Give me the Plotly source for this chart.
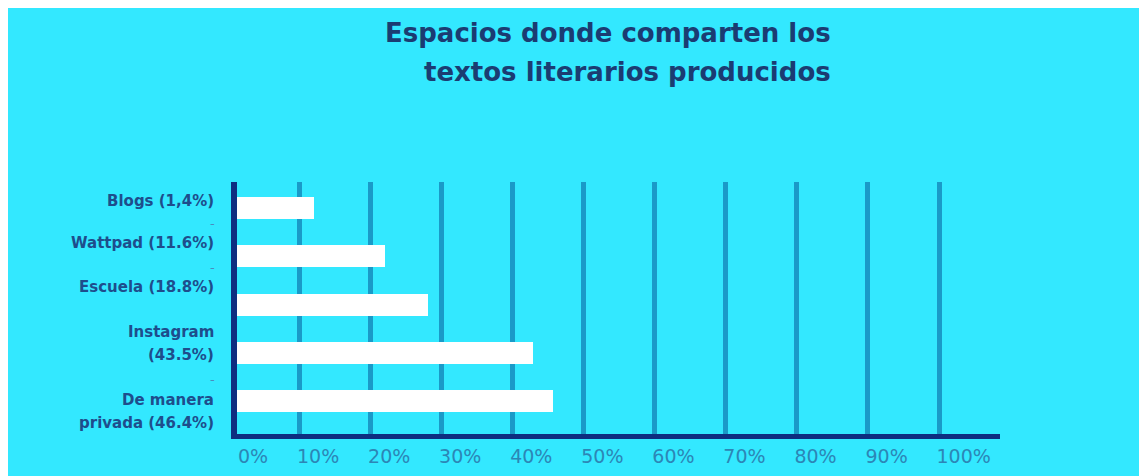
import plotly.graph_objects as go

# ---- data ----
categories = ["Blogs (1,4%)", "Wattpad (11.6%)", "Escuela (18.8%)",
              "Instagram<br>(43.5%)", "De manera<br>privada (46.4%)"]
bar_values = [12.0, 22.0, 28.1, 42.9, 45.7]          # bar lengths as drawn (%)
x_ticks = [10, 20, 30, 40, 50, 60, 70, 80, 90, 100]
x_tick_text = ["10%", "20%", "30%", "40%", "50%", "60%", "70%", "80%", "90%", "100%"]
zero_label = "0%"
title_lines = ["Espacios donde comparten los", "textos literarios producidos"]

# ---- layout geometry (pixels) ----
W, H = 1139, 476
L, R, T, B = 237, 1000, 182, 434

def px_x(px):
    return (px - L) / (R - L)

def px_y(py):
    return (B - py) / (B - T)

CYAN = "#33E8FF"
NAVY = "#0E2E80"
GRID = "#1A9AC8"
TITLE_C = "#1B3C72"
LABEL_C = "#1E4D8C"
TICK_C = "#2C86B6"

ypos = list(range(len(categories)))

fig = go.Figure()
fig.add_trace(go.Bar(
    x=bar_values, y=ypos, orientation="h",
    marker=dict(color="#FFFFFF", line=dict(width=0)),
    width=0.456, hoverinfo="skip",
))

# category labels (each line separately to reproduce the wide line spacing)
label_shifts = [[7], [13], [17.5], [21, -2], [1, -22]]
annotations = []
for i, (cat, shifts) in enumerate(zip(categories, label_shifts)):
    for line, s in zip(cat.split("<br>"), shifts):
        annotations.append(dict(
            text=line, xref="paper", x=px_x(216), xanchor="right",
            yref="y", y=i, yanchor="middle", yshift=s, showarrow=False,
            font=dict(family="DejaVu Sans", size=15, color=LABEL_C, weight="bold"),
        ))

# small dash marks between some labels
for py in [223, 267, 379]:
    annotations.append(dict(
        text="-", xref="paper", x=px_x(217), xanchor="right",
        yref="paper", y=px_y(py), yanchor="middle", showarrow=False,
        font=dict(family="DejaVu Sans", size=13, color="#4A8CBE"),
    ))

# title
for line, py in zip(title_lines, [33, 72]):
    annotations.append(dict(
        text=line, xref="paper", x=px_x(833), xanchor="right",
        yref="paper", y=px_y(py), yanchor="middle", showarrow=False,
        font=dict(family="DejaVu Sans", size=26, color=TITLE_C, weight="bold"),
    ))

# 0% label at the axis origin
annotations.append(dict(
    text=zero_label, xref="paper", x=px_x(236), xanchor="left",
    yref="paper", y=px_y(456), yanchor="middle", showarrow=False,
    font=dict(family="DejaVu Sans", size=19, color=TICK_C),
))

fig.update_layout(
    width=W, height=H,
    margin=dict(l=L, r=W - R, t=T, b=H - B, pad=0, autoexpand=False),
    paper_bgcolor="#FFFFFF",
    plot_bgcolor=CYAN,
    showlegend=False,
    bargap=0,
    annotations=annotations,
    shapes=[dict(
        type="rect", xref="paper", yref="paper", layer="below",
        x0=px_x(8), x1=px_x(W + 5), y0=px_y(H + 5), y1=px_y(8),
        fillcolor=CYAN, line=dict(width=0),
    )],
    xaxis=dict(
        range=[1.204, 108.58], tickmode="array", tickvals=x_ticks, ticktext=x_tick_text,
        showgrid=True, gridcolor=GRID, gridwidth=5, zeroline=False,
        showline=True, linecolor=NAVY, linewidth=5, automargin=False,
        ticks="", ticklabelposition="outside right", ticklabelstandoff=1,
        ticklabelshift=-5,
        tickfont=dict(family="DejaVu Sans", size=19, color=TICK_C),
        fixedrange=True,
    ),
    yaxis=dict(
        range=[4.68, -0.54], showgrid=False, zeroline=False, automargin=False,
        showline=True, linecolor=NAVY, linewidth=6,
        showticklabels=False, ticks="", fixedrange=True,
    ),
)

fig.write_html("out.html")
